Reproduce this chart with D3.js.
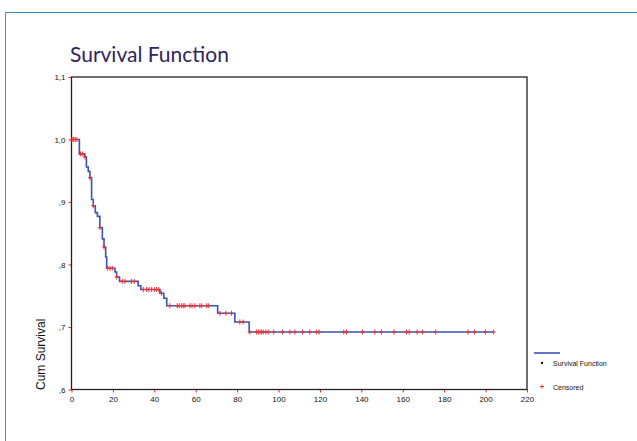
<!DOCTYPE html>
<html>
<head>
<meta charset="utf-8">
<script src="https://cdnjs.cloudflare.com/ajax/libs/d3/7.8.5/d3.min.js"></script>
<style>
  body { margin: 0; background: #fff; }
  svg { display: block; }
</style>
</head>
<body>
<div id="chart"></div>
<script>
// step events of the KM curve: time, survival after the step
const stepTimes = [3.8, 6.4, 7.2, 8.1, 8.9, 9.7, 10.5, 11.5, 12.5, 13.7, 14.9, 15.7, 16.5, 17, 21, 21.8, 23.2, 32.2, 33.5, 42.7, 44.6, 46, 70.6, 78.9, 85.8]
const stepSurv  = [0.977, 0.972, 0.956, 0.949, 0.939, 0.904, 0.894, 0.883, 0.877, 0.859, 0.841, 0.828, 0.812, 0.794, 0.788, 0.780, 0.773, 0.766, 0.760, 0.754, 0.746, 0.734, 0.722, 0.708, 0.692]
const endTime = 204

// censored observations (time)
const censored = [0.3, 1, 1.8, 2.6, 4.3, 5.4, 6.5, 8.9, 10.5, 13.7, 15.7, 17.5, 18.6, 19.7, 21.8,
  24.5, 25.8, 29, 30.3, 34.7, 36.3, 37.4, 38.7, 40, 41.1, 42.2, 43.5, 47.5, 51.1, 52, 53.2, 54,
  54.8, 57.2, 58.2, 59.6, 62, 62.9, 65.3, 66.1, 71.7, 74.6, 77.3, 81.3, 82.9, 86.1, 89.4, 90.2,
  91, 91.8, 92.6, 93.9, 95, 97.7, 101.9, 105.5, 107.9, 111.6, 115.1, 118.3, 119.6, 131.5, 132.8,
  140.5, 146.5, 149.7, 155.8, 161.8, 163.1, 166.9, 169.5, 175.9, 191.5, 194.7, 199.9, 203.9]

const xTicks = [0, 20, 40, 60, 80, 100, 120, 140, 160, 180, 200, 220]
const yTicks = [0.6, 0.7, 0.8, 0.9, 1.0, 1.1]

const width = 637, height = 441
const margin = {top: 77, right: 110, bottom: 51.5, left: 71.5}
const innerWidth = width - margin.left - margin.right,
      innerHeight = height - margin.top - margin.bottom

const svg = d3.select('#chart').append('svg')
  .attr('width', width).attr('height', height)

// page frame (blue rule top + left)
svg.append('path')
  .attr('d', `M5.5,${height} V12.5 H${width}`)
  .attr('fill', 'none').attr('stroke', '#3d8fcc').attr('stroke-width', 1)

svg.append('text')
  .attr('x', 70).attr('y', 62)
  .attr('font-family', 'Lato, "Open Sans", sans-serif')
  .attr('font-size', 21)
  .attr('fill', '#2f2462')
  .text('Survival Function')

const g = svg.append('g').attr('transform', `translate(${margin.left},${margin.top})`)

let xScale = d3.scaleLinear().domain([0, 220]).range([0, innerWidth])
let yScale = d3.scaleLinear().domain([0.6, 1.1]).range([innerHeight, 0])

const comma = d => d3.format('.1f')(d).replace('.', ',').replace(/^0,/, ',')

// axes, red tiny ticks
let axisB = g.append('g').attr('transform', `translate(0,${innerHeight})`)
  .call(d3.axisBottom(xScale).tickValues(xTicks).tickSize(3).tickPadding(4).tickFormat(d3.format('d')))
let axisL = g.append('g')
  .call(d3.axisLeft(yScale).tickValues(yTicks).tickSize(3).tickPadding(3).tickFormat(comma))

;[axisB, axisL].forEach(a => {
  a.select('.domain').remove()
  a.selectAll('line').attr('stroke', '#ff2020')
  a.selectAll('text')
    .attr('font-family', '"Liberation Sans", Arial, sans-serif')
    .attr('font-size', 8)
    .attr('fill', '#111')
})

// frame
g.append('rect')
  .attr('width', innerWidth).attr('height', innerHeight)
  .attr('fill', 'none').attr('stroke', '#222').attr('stroke-width', 1.3)

// step curve points
let pts = [[0, 1]]
stepTimes.forEach((t, i) => {
  pts.push([t, stepSurv[i]])
})
pts.push([endTime, stepSurv[stepSurv.length - 1]])

const line = d3.line()
  .x(d => xScale(d[0]))
  .y(d => yScale(d[1]))
  .curve(d3.curveStepAfter)

g.append('path')
  .datum(pts)
  .attr('d', line)
  .attr('fill', 'none')
  .attr('stroke', '#3b52b8')
  .attr('stroke-width', 1.6)

const survAt = t => {
  let s = 1
  stepTimes.forEach((st, i) => { if (st <= t) s = stepSurv[i] })
  return s
}

// censor marks
g.append('g').selectAll('path')
  .data(censored)
  .enter()
  .append('path')
    .attr('transform', d => `translate(${xScale(d)},${yScale(survAt(d))})`)
    .attr('d', 'M-2,0H2M0,-2.5V2.5')
    .attr('stroke', '#f23030')
    .attr('stroke-width', 1)

// legend
let lg = svg.append('g')
  .attr('font-family', '"Liberation Sans", Arial, sans-serif')
  .attr('font-size', 7)
  .attr('fill', '#111')
lg.append('line').attr('x1', 534).attr('x2', 560).attr('y1', 353).attr('y2', 353)
  .attr('stroke', '#3b52b8').attr('stroke-width', 1.6)
lg.append('rect').attr('x', 541).attr('y', 362).attr('width', 2).attr('height', 2).attr('fill', '#111')
lg.append('text').attr('x', 553).attr('y', 366).text('Survival Function')
lg.append('path').attr('d', 'M540,386.5H544M542,384.5V388.5').attr('stroke', '#f23030').attr('stroke-width', 1)
lg.append('text').attr('x', 553).attr('y', 389.5).text('Censored')

// y axis label
svg.append('text')
  .attr('transform', 'translate(45,390) rotate(-90)')
  .attr('font-family', '"Liberation Sans", Arial, sans-serif')
  .attr('font-size', 12)
  .attr('fill', '#111')
  .text('Cum Survival')
</script>
</body>
</html>
